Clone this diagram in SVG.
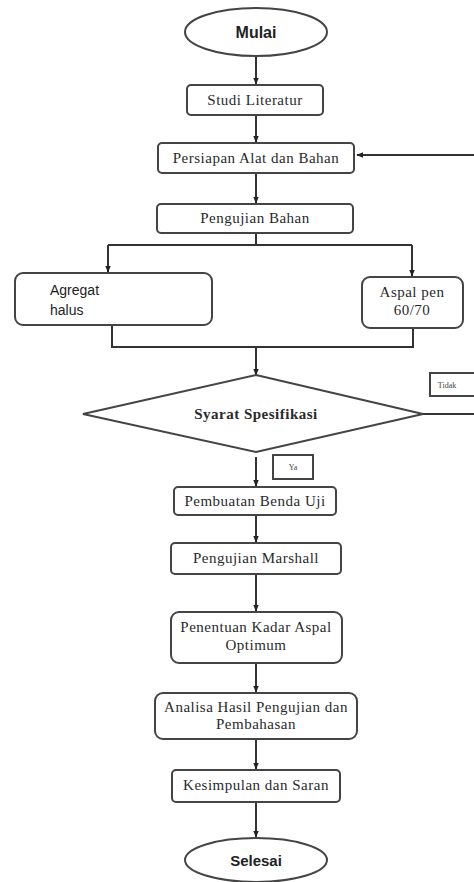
<svg xmlns="http://www.w3.org/2000/svg" width="474" height="882" viewBox="0 0 474 882">
<defs>
<marker id="arr" viewBox="0 0 10 10" refX="9" refY="5" markerWidth="3.5" markerHeight="3.5" orient="auto-start-reverse">
<path d="M0,1 L10,5 L0,9 z" fill="#222"/>
</marker>
<style>
.box{fill:#fff;stroke:#444;stroke-width:2}
.ln{fill:none;stroke:#333;stroke-width:2}
.t{font-family:"Liberation Serif",serif;font-size:15px;letter-spacing:0.5px;fill:#2a2a2a;text-anchor:middle}
.s{font-family:"Liberation Sans",Arial,sans-serif;font-weight:bold;fill:#222;text-anchor:middle}
.sm{font-family:"Liberation Serif",serif;font-size:8px;fill:#444;text-anchor:middle}
</style>
</defs>
<rect width="474" height="882" fill="#fff"/>
<g id="connectors">
<path class="ln" d="M256,56 V84" marker-end="url(#arr)"/>
<path class="ln" d="M256,115 V142" marker-end="url(#arr)"/>
<path class="ln" d="M474,155 H357" marker-end="url(#arr)"/>
<path class="ln" d="M256,173 V203" marker-end="url(#arr)"/>
<path class="ln" d="M256,233 V245"/>
<path class="ln" d="M108,245 H412"/>
<path class="ln" d="M108,245 V272" marker-end="url(#arr)"/>
<path class="ln" d="M412,245 V276" marker-end="url(#arr)"/>
<path class="ln" d="M112,325 V347 H413 V328"/>
<path class="ln" d="M256,347 V375" marker-end="url(#arr)"/>
<path class="ln" d="M423,414 H474"/>
<path class="ln" d="M256,457 V486" marker-end="url(#arr)"/>
<path class="ln" d="M256,515 V542" marker-end="url(#arr)"/>
<path class="ln" d="M256,574 V611" marker-end="url(#arr)"/>
<path class="ln" d="M256,663 V692" marker-end="url(#arr)"/>
<path class="ln" d="M256,739 V769" marker-end="url(#arr)"/>
<path class="ln" d="M256,802 V837" marker-end="url(#arr)"/>
</g>
<g id="mulai">
<ellipse class="box" cx="256" cy="32" rx="71" ry="24"/>
<text class="s" x="256" y="38" font-size="16">Mulai</text>
</g>
<g id="studi">
<rect class="box" x="187" y="85" width="136" height="30" rx="4"/>
<text class="t" x="255" y="105">Studi Literatur</text>
</g>
<g id="persiapan">
<rect class="box" x="158" y="143" width="196" height="30" rx="4"/>
<text class="t" x="256" y="163">Persiapan Alat dan Bahan</text>
</g>
<g id="pengujian-bahan">
<rect class="box" x="157" y="204" width="196" height="29" rx="4"/>
<text class="t" x="255" y="223">Pengujian Bahan</text>
</g>
<g id="agregat">
<rect class="box" x="15" y="273" width="197" height="52" rx="8"/>
<text font-family="'Liberation Sans',Arial,sans-serif" font-size="14" fill="#222" x="50" y="295">Agregat</text>
<text font-family="'Liberation Sans',Arial,sans-serif" font-size="14" fill="#222" x="50" y="315">halus</text>
</g>
<g id="aspal">
<rect class="box" x="362" y="277" width="101" height="51" rx="8"/>
<text class="t" x="412" y="297">Aspal pen</text>
<text class="t" x="412" y="315">60/70</text>
</g>
<g id="syarat">
<polygon class="box" points="256,375 423,414 256,452 83,414"/>
<text class="t" x="256" y="419" font-weight="bold" font-size="16" letter-spacing="0.3">Syarat Spesifikasi</text>
</g>
<g id="tidak">
<rect class="box" x="430" y="373" width="50" height="23" stroke-width="1.5"/>
<text class="sm" x="447" y="388">Tidak</text>
</g>
<g id="ya">
<rect class="box" x="273" y="455" width="40" height="24" stroke-width="1.5"/>
<text class="sm" x="293" y="470">Ya</text>
</g>
<g id="pembuatan">
<rect class="box" x="174" y="487" width="162" height="28" rx="4"/>
<text class="t" x="255" y="506">Pembuatan Benda Uji</text>
</g>
<g id="marshall">
<rect class="box" x="171" y="543" width="170" height="31" rx="4"/>
<text class="t" x="256" y="563">Pengujian Marshall</text>
</g>
<g id="penentuan">
<rect class="box" x="171" y="612" width="171" height="51" rx="8"/>
<text class="t" x="256" y="632" letter-spacing="0.2">Penentuan Kadar Aspal</text>
<text class="t" x="256" y="650">Optimum</text>
</g>
<g id="analisa">
<rect class="box" x="155" y="693" width="202" height="46" rx="8"/>
<text class="t" x="256" y="712" letter-spacing="0.1">Analisa Hasil Pengujian dan</text>
<text class="t" x="256" y="729">Pembahasan</text>
</g>
<g id="kesimpulan">
<rect class="box" x="172" y="770" width="168" height="32" rx="4"/>
<text class="t" x="256" y="790">Kesimpulan dan Saran</text>
</g>
<g id="selesai">
<ellipse class="box" cx="256" cy="860" rx="71" ry="22"/>
<text class="s" x="256" y="866" font-size="15">Selesai</text>
</g>
</svg>
